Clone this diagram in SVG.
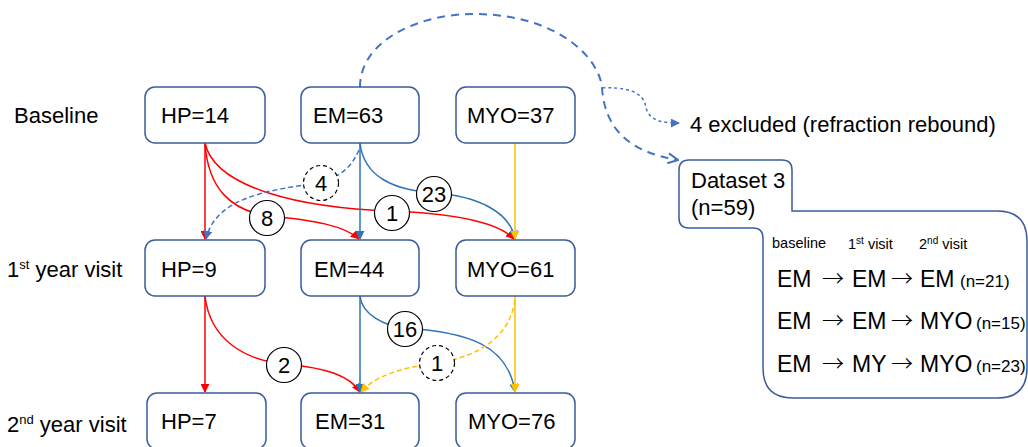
<svg xmlns="http://www.w3.org/2000/svg" width="1028" height="447" viewBox="0 0 1028 447">
  <style>
    text { font-family: "Liberation Sans", Arial, sans-serif; fill: #000; }
    .box { fill: #fff; stroke: #3A5C9E; stroke-width: 1.5; }
    .lbl { font-size: 22px; }
    .val { font-size: 22px; }
    .num { font-size: 22px; text-anchor: middle; }
    .circ { fill: #fff; stroke: #000; stroke-width: 1.2; }
    .circd { fill: #fff; stroke: #000; stroke-width: 1.2; stroke-dasharray: 4 3; }
    .red { fill: none; stroke: #FF0000; stroke-width: 1.5; }
    .blu { fill: none; stroke: #2E75B6; stroke-width: 1.5; }
    .yel { fill: none; stroke: #FFC000; stroke-width: 1.5; }
    .bdash { fill: none; stroke: #4472C4; stroke-width: 1.5; stroke-dasharray: 5 3; }
    .ydash { fill: none; stroke: #FFC000; stroke-width: 1.5; stroke-dasharray: 5 3; }
    .big { fill: none; stroke: #4472C4; stroke-width: 2; stroke-dasharray: 8 6; }
    .dot { fill: none; stroke: #4472C4; stroke-width: 1.5; stroke-dasharray: 3 3; }
    .hd { font-size: 14.5px; }
    .row { font-size: 23px; }
    .ar { font-family: "Noto Sans CJK SC", "Liberation Sans", sans-serif; font-size: 22px; font-weight: 300; }
    .n { font-size: 17px; }
  </style>
  <defs>
    <marker id="mr" viewBox="0 0 10 10" refX="9" refY="5" markerWidth="9" markerHeight="9" markerUnits="userSpaceOnUse" orient="auto">
      <path d="M0,0 L10,5 L0,10 Z" fill="#FF0000"/>
    </marker>
    <marker id="mb" viewBox="0 0 10 10" refX="9" refY="5" markerWidth="9" markerHeight="9" markerUnits="userSpaceOnUse" orient="auto">
      <path d="M0,0 L10,5 L0,10 Z" fill="#2E75B6"/>
    </marker>
    <marker id="my" viewBox="0 0 10 10" refX="9" refY="5" markerWidth="9" markerHeight="9" markerUnits="userSpaceOnUse" orient="auto">
      <path d="M0,0 L10,5 L0,10 Z" fill="#FFC000"/>
    </marker>
    <marker id="mbd" viewBox="0 0 10 10" refX="9" refY="5" markerWidth="9" markerHeight="9" markerUnits="userSpaceOnUse" orient="auto">
      <path d="M0,0 L10,5 L0,10 Z" fill="#4472C4"/>
    </marker>
    <marker id="mopen" viewBox="0 0 12 12" refX="11" refY="6" markerWidth="12" markerHeight="12" markerUnits="userSpaceOnUse" orient="auto">
      <path d="M1,1 L11,6 L1,11" fill="none" stroke="#4472C4" stroke-width="2"/>
    </marker>
  </defs>

  <!-- row labels -->
  <g id="labels">
    <text class="lbl" x="14" y="123">Baseline</text>
    <text class="lbl" x="7" y="277">1<tspan font-size="13" dy="-8">st</tspan><tspan dy="8"> year visit</tspan></text>
    <text class="lbl" x="7" y="432">2<tspan font-size="13" dy="-8">nd</tspan><tspan dy="8"> year visit</tspan></text>
  </g>

  <!-- connectors -->
  <g id="connectors">
    <!-- baseline to 1st year -->
    <path class="red" d="M205,143 L205,239" marker-end="url(#mr)"/>
    <path class="red" d="M205,143 C208,190 232,210 267,216 C315,220 345,226 359,239" marker-end="url(#mr)"/>
    <path class="red" d="M205,143 C215,188 300,208 392,211 C465,214 500,224 514,239" marker-end="url(#mr)"/>
    <path class="blu" d="M360,143 L360,239" marker-end="url(#mb)"/>
    <path class="blu" d="M360,143 C364,178 395,190 434,193 C478,196 510,212 515,239" marker-end="url(#mb)"/>
    <path class="bdash" d="M359,150 C352,165 345,174 321,183 C262,190 215,200 206,239" marker-end="url(#mbd)"/>
    <path class="yel" d="M515,143 L515,239" marker-end="url(#my)"/>

    <!-- 1st year to 2nd year -->
    <path class="red" d="M205,296 L205,392" marker-end="url(#mr)"/>
    <path class="red" d="M205,296 C210,340 245,360 284,364 C328,368 350,376 360,392" marker-end="url(#mr)"/>
    <path class="blu" d="M360,296 L360,392" marker-end="url(#mb)"/>
    <path class="blu" d="M360,296 C362,315 385,326 405,328 C468,332 508,345 515,392" marker-end="url(#mb)"/>
    <path class="yel" d="M515,296 L515,392" marker-end="url(#my)"/>
    <path class="ydash" d="M515,300 C510,335 482,356 437,363 C400,368 375,376 361,392" marker-end="url(#my)"/>

    <!-- exclusion arc -->
    <path class="big" d="M360,87 C360,40 420,14 473,14 C560,14 600,60 602,88 C605,130 630,152 678,160" marker-end="url(#mopen)"/>
    <path class="dot" d="M602,88 C640,86 645,100 646,108 C650,122 665,123 679,123" marker-end="url(#mbd)"/>
  </g>

  <!-- transition counts -->
  <g id="counts">
    <circle class="circ" cx="267" cy="218" r="17.5"/><text class="num" x="267" y="226">8</text>
    <circle class="circ" cx="392" cy="213" r="17.5"/><text class="num" x="392" y="221">1</text>
    <circle class="circ" cx="434" cy="194" r="17.5"/><text class="num" x="434" y="202">23</text>
    <circle class="circd" cx="321" cy="183" r="17.5"/><text class="num" x="321" y="191">4</text>
    <circle class="circ" cx="284" cy="365" r="17.5"/><text class="num" x="284" y="373">2</text>
    <circle class="circ" cx="405" cy="329" r="17.5"/><text class="num" x="405" y="337">16</text>
    <circle class="circd" cx="437" cy="363" r="17.5"/><text class="num" x="437" y="371">1</text>
  </g>

  <!-- baseline nodes -->
  <g id="hp-baseline"><rect class="box" x="145" y="87" width="120" height="56" rx="10"/><text class="val" x="161" y="123">HP=14</text></g>
  <g id="em-baseline"><rect class="box" x="301" y="87" width="118" height="56" rx="10"/><text class="val" x="313" y="123">EM=63</text></g>
  <g id="myo-baseline"><rect class="box" x="456" y="87" width="119" height="56" rx="10"/><text class="val" x="467" y="123">MYO=37</text></g>

  <!-- 1st year nodes -->
  <g id="hp-y1"><rect class="box" x="145" y="240" width="120" height="56" rx="10"/><text class="val" x="161" y="277">HP=9</text></g>
  <g id="em-y1"><rect class="box" x="301" y="240" width="118" height="56" rx="10"/><text class="val" x="314" y="277">EM=44</text></g>
  <g id="myo-y1"><rect class="box" x="456" y="240" width="119" height="56" rx="10"/><text class="val" x="467" y="277">MYO=61</text></g>

  <!-- 2nd year nodes -->
  <g id="hp-y2"><rect class="box" x="147" y="393" width="119" height="56" rx="10"/><text class="val" x="161" y="429">HP=7</text></g>
  <g id="em-y2"><rect class="box" x="301" y="393" width="118" height="56" rx="10"/><text class="val" x="315" y="429">EM=31</text></g>
  <g id="myo-y2"><rect class="box" x="456" y="393" width="119" height="56" rx="10"/><text class="val" x="468" y="429">MYO=76</text></g>

  <!-- exclusion note -->
  <g id="excluded">
    <text class="lbl" x="690" y="132">4 excluded (refraction rebound)</text>
  </g>

  <!-- dataset summary -->
  <g id="dataset3">
    <path class="box" d="M689,160 L782,160 Q792,160 792,170 L792,211 L997,211 Q1027,211 1027,241 L1027,368 Q1027,398 997,398 L793,398 Q763,398 763,368 L763,238 Q763,228 753,228 L689,228 Q679,228 679,218 L679,170 Q679,160 689,160 Z"/>
    <text class="lbl" x="691" y="188" font-size="21.5">Dataset 3</text>
    <text class="lbl" x="691" y="215" font-size="21.5">(n=59)</text>
    <text class="hd" x="772" y="248">baseline</text>
    <text class="hd" x="848" y="249">1<tspan font-size="10" dy="-5">st</tspan><tspan dy="5"> visit</tspan></text>
    <text class="hd" x="919" y="249">2<tspan font-size="10" dy="-5">nd</tspan><tspan dy="5"> visit</tspan></text>

    <text class="row" x="777" y="287">EM</text><text class="ar" x="822" y="286">→</text>
    <text class="row" x="852" y="287">EM</text><text class="ar" x="891" y="286">→</text>
    <text class="row" x="920" y="287">EM</text><text class="n" x="960" y="287">(n=21)</text>

    <text class="row" x="777" y="329">EM</text><text class="ar" x="822" y="328">→</text>
    <text class="row" x="852" y="329">EM</text><text class="ar" x="891" y="328">→</text>
    <text class="row" x="920" y="329">MYO</text><text class="n" x="976" y="329">(n=15)</text>

    <text class="row" x="777" y="372">EM</text><text class="ar" x="822" y="371">→</text>
    <text class="row" x="852" y="372">MY</text><text class="ar" x="891" y="371">→</text>
    <text class="row" x="920" y="372">MYO</text><text class="n" x="976" y="372">(n=23)</text>
  </g>
</svg>
